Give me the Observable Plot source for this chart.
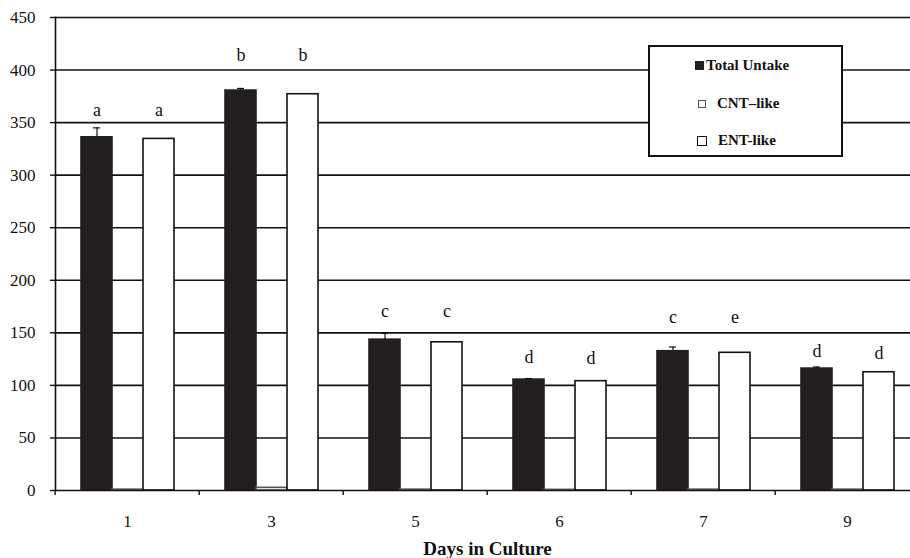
<!DOCTYPE html>
<html>
<head>
<meta charset="utf-8">
<script src="https://cdn.jsdelivr.net/npm/d3@7"></script>
<script src="https://cdn.jsdelivr.net/npm/@observablehq/plot@0.6"></script>
<style>
  body { margin: 0; background: white; }
  #chart { position: relative; width: 910px; height: 558px; font-family: "Liberation Serif", "Times New Roman", serif; }
  .legend { position: absolute; left: 648px; top: 45px; width: 191px; height: 108px; border: 2px solid #111; background: white; }
  .legend .item { position: absolute; display: flex; align-items: center; font-weight: bold; font-size: 15px; color: #111; }
  .legend .sw { box-sizing: border-box; }
</style>
</head>
<body>
<div id="chart"></div>
<script>
// Uptake per day in culture, three series per day
const days = ["1", "3", "5", "6", "7", "9"];
const seriesNames = ["Total Untake", "CNT\u2013like", "ENT-like"];
const totalUptake = [336, 380.5, 143.5, 105.5, 132.5, 116];
const totalError = [9, 2, 6, 1, 4, 1.5];
const cntLike = [0.8, 2.5, 0.8, 0.6, 0.8, 0.8];
const entLike = [334.5, 377, 141, 104, 131, 112.5];

// significance letters and the height (in axis units) where each is written
const totalLetters = ["a", "b", "c", "d", "c", "d"];
const entLetters = ["a", "b", "c", "d", "e", "d"];
const totalLetterY = [362, 414, 171, 126.5, 164.5, 132.5];
const entLetterY = [362, 414, 171, 125.5, 164.5, 130.5];

const yTicks = [0, 50, 100, 150, 200, 250, 300, 350, 400, 450];

const fills = ["#231f20", "#ffffff", "#ffffff"];
const strokes = ["#231f20", "#555555", "#111111"];

const bars = [];
days.forEach((day, i) => {
  bars.push({day, series: seriesNames[0], value: totalUptake[i], err: totalError[i]});
  bars.push({day, series: seriesNames[1], value: cntLike[i]});
  bars.push({day, series: seriesNames[2], value: entLike[i]});
});
const errors = bars.filter(d => d.series === seriesNames[0]);
const letters = [];
days.forEach((day, i) => {
  letters.push({day, series: seriesNames[0], text: totalLetters[i], y: totalLetterY[i]});
  letters.push({day, series: seriesNames[2], text: entLetters[i], y: entLetterY[i]});
});

const width = 910, height = 558;
const marginLeft = 53, marginRight = -11, marginTop = 17, marginBottom = 68;
const groupWidth = (width - marginLeft - marginRight) / days.length;

const fillOf = d => fills[seriesNames.indexOf(d.series)];
const strokeOf = d => strokes[seriesNames.indexOf(d.series)];

const plot = Plot.plot({
  width, height, marginLeft, marginRight, marginTop, marginBottom,
  style: {fontFamily: "'Liberation Serif', 'Times New Roman', serif", fontSize: "17px", color: "#111", background: "white"},
  fx: {domain: days, padding: 0},
  x: {domain: seriesNames, paddingInner: 0, paddingOuter: 0.766, axis: null},
  y: {domain: [0, 450], axis: null},
  marks: [
    Plot.ruleY(yTicks.slice(1), {stroke: "#111", strokeWidth: 1.6}),
    Plot.barY(bars, {fx: "day", x: "series", y: "value", fill: fillOf, stroke: strokeOf, strokeWidth: 1.6}),
    Plot.ruleX(errors, {fx: "day", x: "series", y1: "value", y2: d => d.value + d.err, stroke: "#111", strokeWidth: 1.2}),
    Plot.tickY(errors, {fx: "day", x: "series", y: d => d.value + d.err, stroke: "#111", strokeWidth: 1.2, insetLeft: 12, insetRight: 12}),
    Plot.text(letters, {fx: "day", x: "series", y: "y", text: "text", fontSize: 18, fill: "#111"}),
    Plot.ruleY([0], {stroke: "#111", strokeWidth: 1.6}),
    Plot.frame({anchor: "left", facetAnchor: "left", stroke: "#111", strokeWidth: 1.6}),
    Plot.axisY({ticks: yTicks, tickSize: 5, tickPadding: 15, fontSize: 17, strokeWidth: 1.4, label: null}),
    Plot.axisFx({anchor: "bottom", tickSize: 5, text: null, dx: -groupWidth / 2, strokeWidth: 1.4, label: null}),
    Plot.axisFx({anchor: "bottom", tickSize: 0, tickPadding: 24, fontSize: 17, label: null}),
    Plot.axisFx({anchor: "bottom", ticks: [], label: "Days in Culture", labelAnchor: "center", labelOffset: 64, dx: 10, fontWeight: "bold", fontSize: 19})
  ]
});

const chart = document.getElementById("chart");
chart.appendChild(plot);

// legend box drawn over the upper right of the plot
const legend = document.createElement("div");
legend.className = "legend";
const items = [
  {left: 45, top: 10, size: 9, gap: 2},
  {left: 48, top: 48, size: 8, gap: 11},
  {left: 47, top: 85, size: 10, gap: 11}
];
seriesNames.forEach((name, i) => {
  const it = document.createElement("div");
  it.className = "item";
  it.style.left = items[i].left + "px";
  it.style.top = items[i].top + "px";
  const sw = document.createElement("span");
  sw.className = "sw";
  sw.style.width = items[i].size + "px";
  sw.style.height = items[i].size + "px";
  sw.style.background = fills[i];
  sw.style.border = i === 0 ? "none" : `1.5px solid ${strokes[i]}`;
  sw.style.marginRight = items[i].gap + "px";
  const label = document.createElement("span");
  label.textContent = name;
  it.appendChild(sw);
  it.appendChild(label);
  legend.appendChild(it);
});
chart.appendChild(legend);
</script>
</body>
</html>
